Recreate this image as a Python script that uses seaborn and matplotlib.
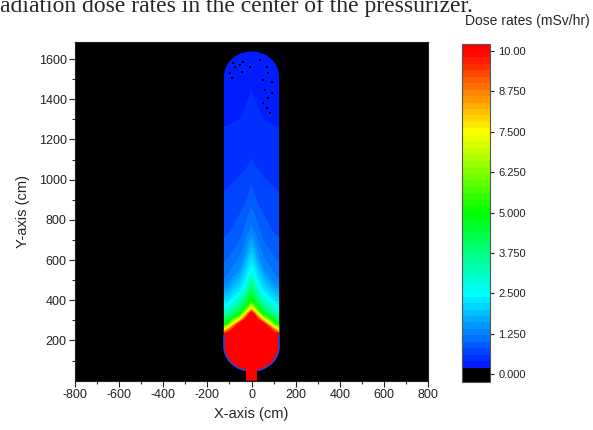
import numpy as np
import matplotlib
matplotlib.use("Agg")
import matplotlib.pyplot as plt
import seaborn as sns
from matplotlib.colors import ListedColormap, BoundaryNorm, LinearSegmentedColormap
from matplotlib.path import Path
from matplotlib.patches import PathPatch
from matplotlib.cm import ScalarMappable

# dose rate (mSv/hr), per height and per distance from the axis
heights_cm = [0, 220, 250, 280, 300, 330, 360, 400, 450, 500, 560, 650, 750, 900, 1100, 1300, 1500, 1700]
half_x_cm = [0, 20, 50, 105, 130]
dose_x0 = [14, 14, 14, 14, 13, 11, 7.5, 5.0, 4.1, 3.3, 2.5, 1.9, 1.25, 0.91, 0.6, 0.45, 0.38, 0.3]
dose_x20 = [14, 14, 13, 12.5, 11, 8.6, 5.5, 4.2, 3.3, 2.5, 2.1, 1.45, 1.1, 0.8, 0.55, 0.42, 0.37, 0.3]
dose_x50 = [14, 14, 11.5, 11, 8.2, 5.0, 4.1, 3.1, 2.3, 1.9, 1.4, 1.1, 0.9, 0.72, 0.52, 0.4, 0.36, 0.3]
dose_x105 = [14, 11.5, 9.0, 5.5, 4.5, 3.5, 2.75, 2.2, 1.7, 1.25, 1.1, 0.92, 0.76, 0.64, 0.5, 0.38, 0.35, 0.3]
dose_x130 = [14, 10.8, 7.3, 4.8, 4.1, 3.25, 2.5, 2.1, 1.55, 1.2, 1.05, 0.88, 0.74, 0.62, 0.5, 0.38, 0.35, 0.3]

# empty (zero-dose) cells near the top head
zero_x = [-82, -75, -52, -37, -97, -90, -44, -7, 39, 69, 76, 53, 92, 61, 92, 76, 53, 69, 84]
zero_y = [1579, 1562, 1571, 1587, 1529, 1504, 1537, 1562, 1596, 1562, 1529, 1496, 1488, 1446, 1430, 1405, 1380, 1355, 1330]

cbar_ticks = [0, 1.25, 2.5, 3.75, 5.0, 6.25, 7.5, 8.75, 10.0]
cbar_labels = ["0.000", "1.250", "2.500", "3.750", "5.000", "6.250", "7.500", "8.750", "10.00"]

# vessel geometry (cm)
R = 125
cyl_bottom, cyl_top = 170, 1513
bottom_dome_h = 122
nozzle_r = 25

sns.set_theme(style="ticks")
plt.rcParams["font.family"] = ["Liberation Sans", "DejaVu Sans"]
plt.rcParams["axes.unicode_minus"] = False

fig = plt.figure(figsize=(5.93, 4.30), dpi=100)
ax = fig.add_axes([0.1265, 0.1147, 0.5953, 0.7877])
cax = fig.add_axes([0.7796, 0.1109, 0.0467, 0.786])
ax.set_facecolor("black")

# colour levels, 0.2 wide, rainbow blue->cyan->green->yellow->red
rainbow = LinearSegmentedColormap.from_list(
    "rb", [(0.0, "#0000ff"), (0.25, "#00ffff"), (0.5, "#00ff00"), (0.75, "#ffff00"), (1.0, "#ff0000")])
levels = np.round(np.arange(0.2, 10.21, 0.2), 2)
band_colors = [rainbow((lo + hi) / 2 / 10.0) for lo, hi in zip(levels[:-1], levels[1:])]
cmap = ListedColormap(band_colors)
cmap.set_over("#ff0000")
norm = BoundaryNorm(levels, cmap.N)

# mirrored grid
xs = [-v for v in half_x_cm[::-1]] + half_x_cm[1:]
cols = [dose_x130, dose_x105, dose_x50, dose_x20, dose_x0, dose_x20, dose_x50, dose_x105, dose_x130]
Z = np.array(cols).T
X, Y = np.meshgrid(xs, heights_cm)

# vessel outline
a_top = np.linspace(np.pi, 0, 40)
a_nz = np.arccos(nozzle_r / R)
a_br = np.linspace(0, -a_nz, 30)
a_bl = np.linspace(-np.pi + a_nz, -np.pi, 30)
verts = [(-R, cyl_bottom), (-R, cyl_top)]
verts += list(zip(R * np.cos(a_top), cyl_top + R * np.sin(a_top)))
verts += [(R, cyl_bottom)]
verts += list(zip(R * np.cos(a_br), cyl_bottom + bottom_dome_h * np.sin(a_br)))
verts += [(nozzle_r, 0), (-nozzle_r, 0)]
verts += list(zip(R * np.cos(a_bl), cyl_bottom + bottom_dome_h * np.sin(a_bl)))
verts += [(-R, cyl_bottom)]
vessel = PathPatch(Path(verts), transform=ax.transData, facecolor="none", edgecolor="none")

cs = ax.contourf(X, Y, Z, levels=levels, cmap=cmap, norm=norm, extend="max")
cs.set_clip_path(vessel)

ax.scatter(zero_x, zero_y, marker="s", s=3, color="black", linewidths=0, zorder=3)

# thin low-dose rim around the bottom head
rim_r = [(R, 230), (R, cyl_bottom)] + list(zip(R * np.cos(a_br), cyl_bottom + bottom_dome_h * np.sin(a_br)))
rim_l = [(-R, 230), (-R, cyl_bottom)] + list(zip(R * np.cos(a_bl[::-1]), cyl_bottom + bottom_dome_h * np.sin(a_bl[::-1])))
for rim in (rim_r, rim_l):
    rx, ry = zip(*rim)
    ax.plot(rx, ry, color="#0a50ff", lw=1.0, solid_capstyle="butt")

ax.set_xlim(-800, 800)
ax.set_ylim(0, 1685)
ax.set_xticks(np.arange(-800, 801, 200))
ax.set_xticks(np.arange(-700, 800, 200), minor=True)
ax.set_yticks(np.arange(200, 1601, 200))
ax.set_yticks(np.arange(100, 1700, 200), minor=True)
ax.tick_params(which="major", direction="out", length=4, width=0.8, labelsize=9, colors="#222222", pad=2)
ax.tick_params(which="minor", direction="out", length=2.5, width=0.8)
for s in ax.spines.values():
    s.set_color("#222222")
    s.set_linewidth(0.8)
ax.set_xlabel("X-axis (cm)", fontsize=10.5, labelpad=4)
ax.set_ylabel("Y-axis (cm)", fontsize=10.5, labelpad=6)

sm = ScalarMappable(norm=BoundaryNorm([-0.25] + list(levels), cmap.N + 1),
                    cmap=ListedColormap(["black"] + band_colors))
cb = fig.colorbar(sm, cax=cax, spacing="proportional", ticks=cbar_ticks)
cb.minorticks_off()
cb.ax.set_yticklabels(cbar_labels)
cb.ax.tick_params(which="both", direction="out", length=3, width=0.8, labelsize=8, colors="#222222", pad=3)
cb.ax.tick_params(which="minor", length=0)
cb.outline.set_edgecolor("#555555")
cb.outline.set_linewidth(0.8)

fig.text(0.995, 0.943, "Dose rates (mSv/hr)", ha="right", va="baseline", fontsize=10)
fig.text(0.0, 0.972, "adiation dose rates in the center of the pressurizer.",
         ha="left", va="baseline", fontsize=17, family=["Liberation Serif", "DejaVu Serif"])

fig.savefig("out.png", dpi=100)
